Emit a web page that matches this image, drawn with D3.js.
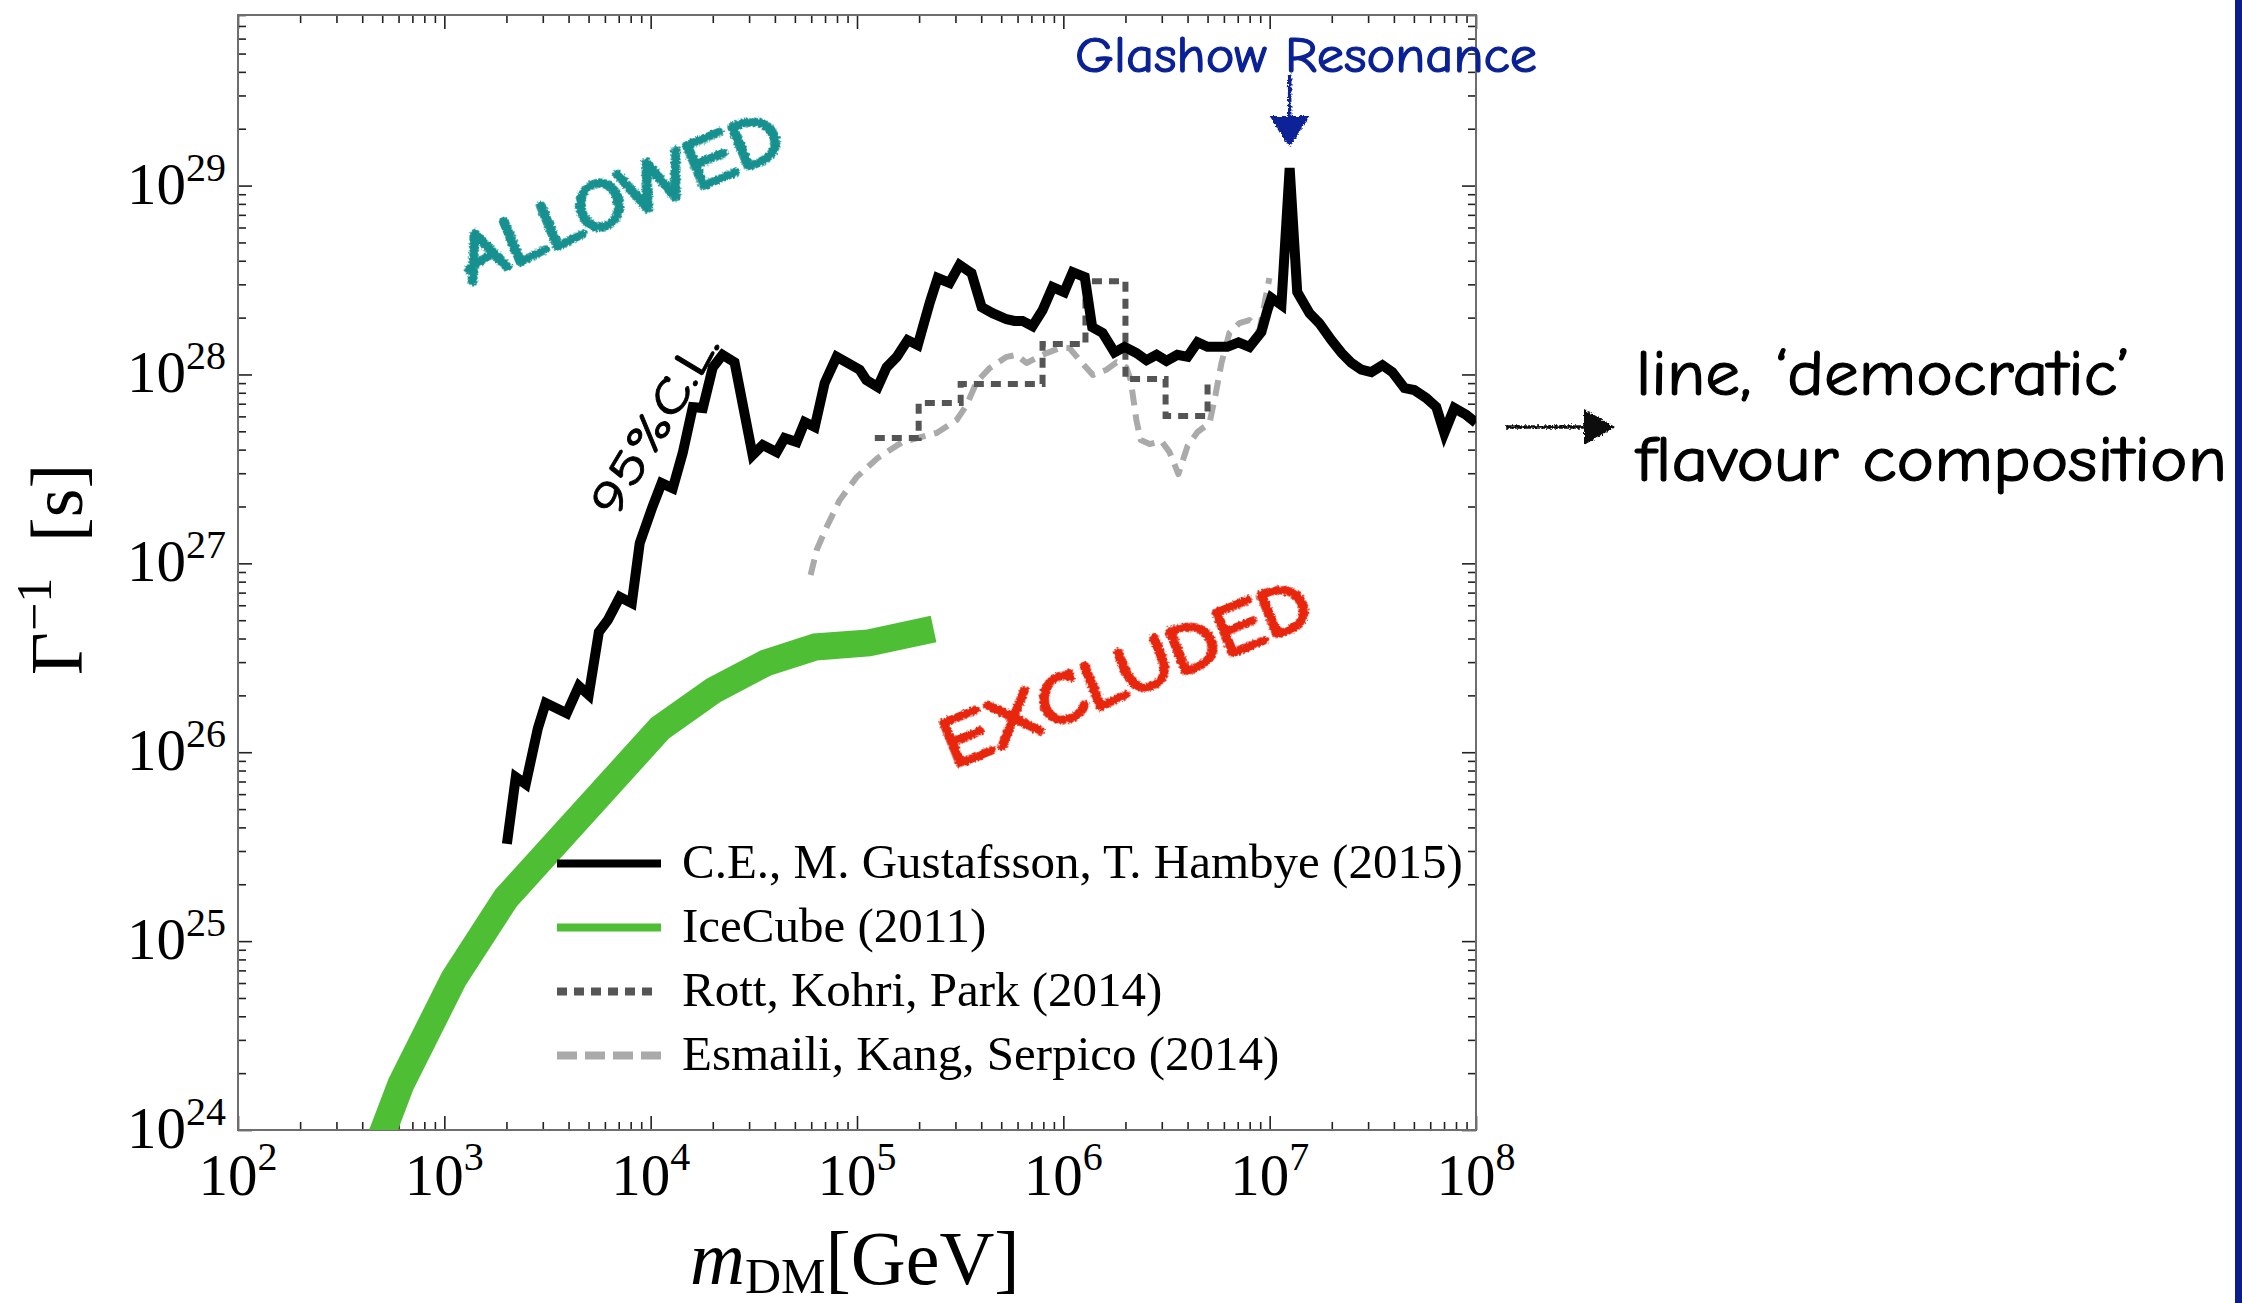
<!DOCTYPE html>
<html>
<head>
<meta charset="utf-8">
<script src="https://cdn.jsdelivr.net/npm/d3@7"></script>
<style>
  html, body { margin: 0; padding: 0; background: #ffffff; }
  svg { display: block; }
</style>
</head>
<body>
<script>
// ---- Data: DM mass [GeV] and lifetime bound Gamma^-1 [s] ----

// C.E., M. Gustafsson, T. Hambye (2015), 95% C.L., democratic flavour composition
const ceMass = [2.01e3, 2.22e3, 2.48e3, 2.84e3, 3.10e3, 3.92e3, 4.49e3, 5.01e3, 5.61e3, 6.20e3,
  7.09e3, 8.10e3, 8.85e3, 1.02e4, 1.13e4, 1.28e4, 1.43e4, 1.60e4, 1.79e4, 2.00e4,
  2.23e4, 2.55e4, 3.12e4, 3.49e4, 4.08e4, 4.46e4, 5.10e4, 5.58e4, 6.24e4, 6.97e4,
  7.97e4, 8.91e4, 1.03e5, 1.11e5, 1.26e5, 1.39e5, 1.56e5, 1.76e5, 1.97e5, 2.25e5,
  2.46e5, 2.81e5, 3.14e5, 3.59e5, 4.02e5, 4.54e5, 5.31e5, 5.80e5, 6.34e5, 7.09e5,
  7.93e5, 8.87e5, 1.01e6, 1.11e6, 1.27e6, 1.38e6, 1.55e6, 1.77e6, 1.98e6, 2.26e6,
  2.53e6, 2.83e6, 3.16e6, 3.57e6, 4.00e6, 4.47e6, 5.00e6, 6.24e6, 7.06e6, 7.98e6,
  9.12e6, 9.75e6, 1.02e7, 1.14e7, 1.25e7, 1.36e7, 1.56e7, 1.74e7, 1.99e7, 2.23e7,
  2.49e7, 2.78e7, 3.11e7, 3.52e7, 3.93e7, 4.50e7, 5.02e7, 5.74e7, 6.42e7, 7.02e7,
  7.85e7, 8.98e7, 1.00e8];
const ceLife = [3.27e25, 7.39e25, 6.79e25, 1.34e26, 1.82e26, 1.61e26, 2.24e26, 2.01e26, 4.33e26, 5.01e26,
  6.63e26, 6.16e26, 1.28e27, 1.99e27, 2.66e27, 2.50e27, 3.84e27, 6.72e27, 6.64e27, 1.09e28,
  1.27e28, 1.16e28, 3.74e27, 4.23e27, 3.88e27, 4.61e27, 4.39e27, 5.60e27, 5.27e27, 9.01e27,
  1.24e28, 1.16e28, 1.06e28, 9.34e27, 8.58e27, 1.09e28, 1.24e28, 1.52e28, 1.43e28, 2.39e28,
  3.24e28, 3.05e28, 3.80e28, 3.44e28, 2.27e28, 2.11e28, 1.96e28, 1.92e28, 1.92e28, 1.80e28,
  2.19e28, 2.90e28, 2.73e28, 3.48e28, 3.28e28, 1.78e28, 1.66e28, 1.31e28, 1.40e28, 1.30e28,
  1.19e28, 1.27e28, 1.18e28, 1.27e28, 1.24e28, 1.48e28, 1.40e28, 1.40e28, 1.48e28, 1.40e28,
  1.68e28, 2.19e28, 2.54e28, 2.33e28, 1.24e29, 2.73e28, 2.11e28, 1.87e28, 1.52e28, 1.30e28,
  1.15e28, 1.06e28, 1.03e28, 1.12e28, 1.03e28, 8.47e27, 8.27e27, 7.50e27, 6.72e27, 4.90e27,
  6.64e27, 6.10e27, 5.55e27];

// IceCube (2011)
const icMass = [4.46e2, 6.16e2, 1.11e3, 1.99e3, 1.11e4, 2.02e4, 3.61e4, 6.30e4, 1.14e5, 2.35e5];
const icLife = [6.9e23, 1.75e24, 6.30e24, 1.69e25, 1.34e26, 2.13e26, 2.97e26, 3.61e26, 3.79e26, 4.49e26];

// Rott, Kohri, Park (2014): bin starts and levels (step function)
const rkpMass = [1.22e5, 1.99e5, 3.18e5, 7.93e5, 1.28e6, 2.00e6, 3.13e6, 5.00e6];
const rkpLife = [4.61e27, 7.06e27, 8.90e27, 1.45e28, 3.12e28, 9.46e27, 6.03e27, 9.01e27];

// Esmaili, Kang, Serpico (2014)
const eksMass = [5.96e4, 6.38e4, 7.13e4, 8.24e4, 9.96e4, 1.26e5, 1.66e5, 2.43e5, 3.04e5, 3.40e5,
  3.80e5, 4.39e5, 5.31e5, 5.93e5, 6.63e5, 7.93e5, 9.59e5, 1.07e6, 1.20e6, 1.39e6,
  1.62e6, 1.81e6, 2.02e6, 2.12e6, 2.26e6, 2.37e6, 2.62e6, 2.99e6, 3.27e6, 3.61e6,
  4.00e6, 4.47e6, 5.11e6, 5.46e6, 5.84e6, 6.38e6, 7.14e6, 7.98e6, 8.92e6, 9.97e6];
const eksLife = [8.67e26, 1.18e27, 1.56e27, 2.16e27, 2.86e27, 3.61e27, 4.39e27, 4.90e27, 5.74e27, 6.89e27,
  9.12e27, 1.08e28, 1.24e28, 1.27e28, 1.15e28, 1.27e28, 1.38e28, 1.38e28, 1.19e28, 9.93e27,
  1.06e28, 1.16e28, 1.09e28, 9.34e27, 5.74e27, 4.50e27, 4.28e27, 4.44e27, 3.88e27, 2.97e27,
  4.18e27, 4.96e27, 5.53e27, 7.78e27, 1.15e28, 1.66e28, 1.87e28, 1.94e28, 1.72e28, 3.24e28];

// Axis tick exponents
const xTickExps = [2, 3, 4, 5, 6, 7, 8];
const yTickExps = [24, 25, 26, 27, 28, 29];

// Legend entries
const legendLabels = [
  "C.E., M. Gustafsson, T. Hambye (2015)",
  "IceCube (2011)",
  "Rott, Kohri, Park (2014)",
  "Esmaili, Kang, Serpico (2014)"
];

// Glashow resonance position (mass at the spike)
const glashowMass = 1.25e7;

// ---- Layout ----
const W = 2242, H = 1303;
const plot = { left: 238, right: 1476, top: 15, bottom: 1130 };
const serif = "'Times New Roman', 'Liberation Serif', serif";
const hand = "'Comic Sans MS', 'Comic Neue', 'Open Sans', sans-serif";

const svg = d3.select("body").append("svg")
  .attr("width", W).attr("height", H)
  .attr("viewBox", `0 0 ${W} ${H}`);

const defs = svg.append("defs");
defs.append("clipPath").attr("id", "plotClip")
  .append("rect")
  .attr("x", plot.left).attr("y", plot.top)
  .attr("width", plot.right - plot.left).attr("height", plot.bottom - plot.top);

// rough, marker-pen look for the hand-written annotations
const rough = defs.append("filter").attr("id", "rough")
  .attr("x", "-10%").attr("y", "-10%").attr("width", "120%").attr("height", "120%");
rough.append("feTurbulence").attr("type", "fractalNoise").attr("baseFrequency", 0.45)
  .attr("numOctaves", 2).attr("seed", 7).attr("result", "noise");
rough.append("feDisplacementMap").attr("in", "SourceGraphic").attr("in2", "noise")
  .attr("scale", 5).attr("xChannelSelector", "R").attr("yChannelSelector", "G");

const x = d3.scaleLog().domain([1e2, 1e8]).range([plot.left, plot.right]);
const y = d3.scaleLog().domain([1e24, 8e29]).range([plot.bottom, plot.top]);

// ---- Ticks (all four sides, pointing inward) ----
const xMajor = xTickExps.map(e => Math.pow(10, e));
const xMinor = [];
for (let e = 2; e < 8; e++) for (let d = 2; d <= 9; d++) xMinor.push(d * Math.pow(10, e));
const yMajor = yTickExps.map(e => Math.pow(10, e));
const yMinor = [];
for (let e = 24; e <= 29; e++) for (let d = 2; d <= 9; d++) {
  const v = d * Math.pow(10, e);
  if (v <= 8.0001e29) yMinor.push(v);
}

function drawAxis(axisGen, transform, values, size) {
  const g = svg.append("g").attr("transform", transform)
    .call(axisGen.tickValues(values).tickSize(size).tickSizeOuter(0).tickFormat(""));
  g.select(".domain").remove();
  g.selectAll(".tick line").attr("stroke", "#222").attr("stroke-width", 1.6);
  return g;
}
[[xMajor, 14], [xMinor, 8]].forEach(([vals, s]) => {
  drawAxis(d3.axisTop(x), `translate(0,${plot.bottom})`, vals, s);
  drawAxis(d3.axisBottom(x), `translate(0,${plot.top})`, vals, s);
});
[[yMajor, 14], [yMinor, 8]].forEach(([vals, s]) => {
  drawAxis(d3.axisRight(y), `translate(${plot.left},0)`, vals, s);
  drawAxis(d3.axisLeft(y), `translate(${plot.right},0)`, vals, s);
});

// frame
svg.append("rect")
  .attr("x", plot.left).attr("y", plot.top)
  .attr("width", plot.right - plot.left).attr("height", plot.bottom - plot.top)
  .attr("fill", "none").attr("stroke", "#6e6e6e").attr("stroke-width", 2);

// ---- Tick labels 10^n ----
svg.append("g").selectAll("text").data(xTickExps).join("text")
  .attr("x", e => x(Math.pow(10, e))).attr("y", 1195)
  .attr("text-anchor", "middle")
  .attr("font-family", serif).attr("font-size", 59).attr("fill", "#000")
  .call(t => {
    t.append("tspan").text("10");
    t.append("tspan").attr("dy", -25).attr("font-size", 40).text(e => e);
  });

svg.append("g").selectAll("text").data(yTickExps).join("text")
  .attr("x", 226).attr("y", e => y(Math.pow(10, e)) + 18)
  .attr("text-anchor", "end")
  .attr("font-family", serif).attr("font-size", 59).attr("fill", "#000")
  .call(t => {
    t.append("tspan").text("10");
    t.append("tspan").attr("dy", -23).attr("font-size", 40).text(e => e);
  });

// ---- Axis titles ----
const xt = svg.append("text").attr("x", 690).attr("y", 1284)
  .attr("font-family", serif).attr("font-size", 76).attr("fill", "#000");
xt.append("tspan").attr("font-style", "italic").text("m");
xt.append("tspan").attr("font-size", 50).attr("dy", 9).text("DM");
xt.append("tspan").attr("dy", -9).text("[GeV]");

const yt = svg.append("g").attr("transform", "translate(82,675) rotate(-90)")
  .attr("font-family", serif).attr("fill", "#000");
yt.append("text").attr("x", 0).attr("y", 0).attr("font-size", 74).text("Γ");
yt.append("text").attr("x", 44).attr("y", -31).attr("font-size", 50).text("−1");
yt.append("text").attr("x", 133).attr("y", 0).attr("font-size", 74).text("[s]");

// ---- Curves ----
const zip = (a, b) => a.map((v, i) => [v, b[i]]);
const line = d3.line().x(d => x(d[0])).y(d => y(d[1]));
const stepLine = d3.line().x(d => x(d[0])).y(d => y(d[1])).curve(d3.curveStepAfter);

const curves = svg.append("g").attr("clip-path", "url(#plotClip)");

curves.append("path").datum(zip(eksMass, eksLife))
  .attr("d", line).attr("fill", "none")
  .attr("stroke", "#aaaaaa").attr("stroke-width", 6)
  .attr("stroke-dasharray", "16,9").attr("stroke-linejoin", "round");

curves.append("path").datum(zip(rkpMass, rkpLife))
  .attr("d", stepLine).attr("fill", "none")
  .attr("stroke", "#555555").attr("stroke-width", 6)
  .attr("stroke-dasharray", "10,7");

curves.append("path").datum(zip(icMass, icLife))
  .attr("d", line).attr("fill", "none")
  .attr("stroke", "#4ebe34").attr("stroke-width", 27)
  .attr("stroke-linejoin", "miter").attr("stroke-linecap", "butt");

curves.append("path").datum(zip(ceMass, ceLife))
  .attr("d", line).attr("fill", "none")
  .attr("stroke", "#000").attr("stroke-width", 10)
  .attr("stroke-linejoin", "miter").attr("stroke-linecap", "butt");

// ---- Legend ----
const legendStyles = [
  { stroke: "#000", dash: null, x2: 661 },
  { stroke: "#4ebe34", dash: null, x2: 661 },
  { stroke: "#555555", dash: "10,7", x2: 655 },
  { stroke: "#aaaaaa", dash: "20,8", x2: 661 }
];
const legendBase = [878, 942, 1006, 1070];
const lg = svg.append("g");
legendLabels.forEach((lab, i) => {
  const st = legendStyles[i];
  lg.append("line")
    .attr("x1", 557).attr("x2", st.x2)
    .attr("y1", legendBase[i] - 14.5).attr("y2", legendBase[i] - 14.5)
    .attr("stroke", st.stroke).attr("stroke-width", 8)
    .attr("stroke-dasharray", st.dash);
  lg.append("text").attr("x", 682).attr("y", legendBase[i])
    .attr("font-family", serif).attr("font-size", 49).attr("fill", "#000")
    .text(lab);
});

// ---- Annotations ----
// ALLOWED / EXCLUDED in marker-pen style
svg.append("g").attr("transform", "translate(619,196) rotate(-22.5)")
  .append("text").attr("x", 0).attr("y", 25)
  .attr("text-anchor", "middle")
  .attr("font-family", hand).attr("font-size", 70)
  .attr("textLength", 345).attr("lengthAdjust", "spacingAndGlyphs")
  .attr("fill", "#17918f").attr("stroke", "#17918f").attr("stroke-width", 4)
  .attr("stroke-linejoin", "round")
  .attr("filter", "url(#rough)")
  .text("ALLOWED");

svg.append("g").attr("transform", "translate(1125,672) rotate(-22)")
  .append("text").attr("x", 0).attr("y", 25)
  .attr("text-anchor", "middle")
  .attr("font-family", hand).attr("font-size", 70)
  .attr("textLength", 392).attr("lengthAdjust", "spacingAndGlyphs")
  .attr("fill", "#e8260e").attr("stroke", "#e8260e").attr("stroke-width", 4)
  .attr("stroke-linejoin", "round")
  .attr("filter", "url(#rough)")
  .text("EXCLUDED");

// 95% C.L. along the rising edge of the black curve
svg.append("g").attr("transform", "translate(655,424) rotate(-59)")
  .append("text").attr("x", 0).attr("y", 0)
  .attr("text-anchor", "middle").attr("dominant-baseline", "central")
  .attr("font-family", hand).attr("font-size", 48)
  .attr("textLength", 205).attr("lengthAdjust", "spacingAndGlyphs")
  .attr("fill", "#000").attr("stroke", "#000").attr("stroke-width", 0.8)
  .text("95%C.L.");

// Glashow resonance label and arrow
const gx = x(glashowMass);
svg.append("text").attr("x", 1075).attr("y", 72)
  .attr("font-family", hand).attr("font-size", 50)
  .attr("textLength", 462).attr("lengthAdjust", "spacingAndGlyphs")
  .attr("fill", "#0a2196").attr("stroke", "#0a2196").attr("stroke-width", 1.2)
  .text("Glashow Resonance");
const garrow = svg.append("g").attr("filter", "url(#rough)");
garrow.append("line").attr("x1", gx).attr("x2", gx).attr("y1", 74).attr("y2", 120)
  .attr("stroke", "#0a2196").attr("stroke-width", 3.5);
garrow.append("path")
  .attr("d", `M${gx - 20},116 L${gx + 20},116 L${gx},147 Z`)
  .attr("fill", "#0a2196");

// side note with arrow
const sarrow = svg.append("g").attr("filter", "url(#rough)");
sarrow.append("line").attr("x1", 1505).attr("x2", 1590).attr("y1", 427).attr("y2", 427)
  .attr("stroke", "#111").attr("stroke-width", 3.5);
sarrow.append("path").attr("d", "M1584,409 L1615,427 L1584,445 Z").attr("fill", "#111");

svg.append("text").attr("x", 1636).attr("y", 395)
  .attr("font-family", hand).attr("font-size", 64)
  .attr("textLength", 494).attr("lengthAdjust", "spacingAndGlyphs")
  .attr("fill", "#000").attr("stroke", "#000").attr("stroke-width", 1.2)
  .text("line, ‘democratic’");
svg.append("text").attr("x", 1636).attr("y", 481)
  .attr("font-family", hand).attr("font-size", 64)
  .attr("textLength", 591).attr("lengthAdjust", "spacingAndGlyphs")
  .attr("fill", "#000").attr("stroke", "#000").attr("stroke-width", 1.2)
  .text("flavour composition");

// blue rule on the right edge
svg.append("rect").attr("x", 2235).attr("y", 0).attr("width", 7).attr("height", H)
  .attr("fill", "#0b1c8c");
</script>
</body>
</html>
